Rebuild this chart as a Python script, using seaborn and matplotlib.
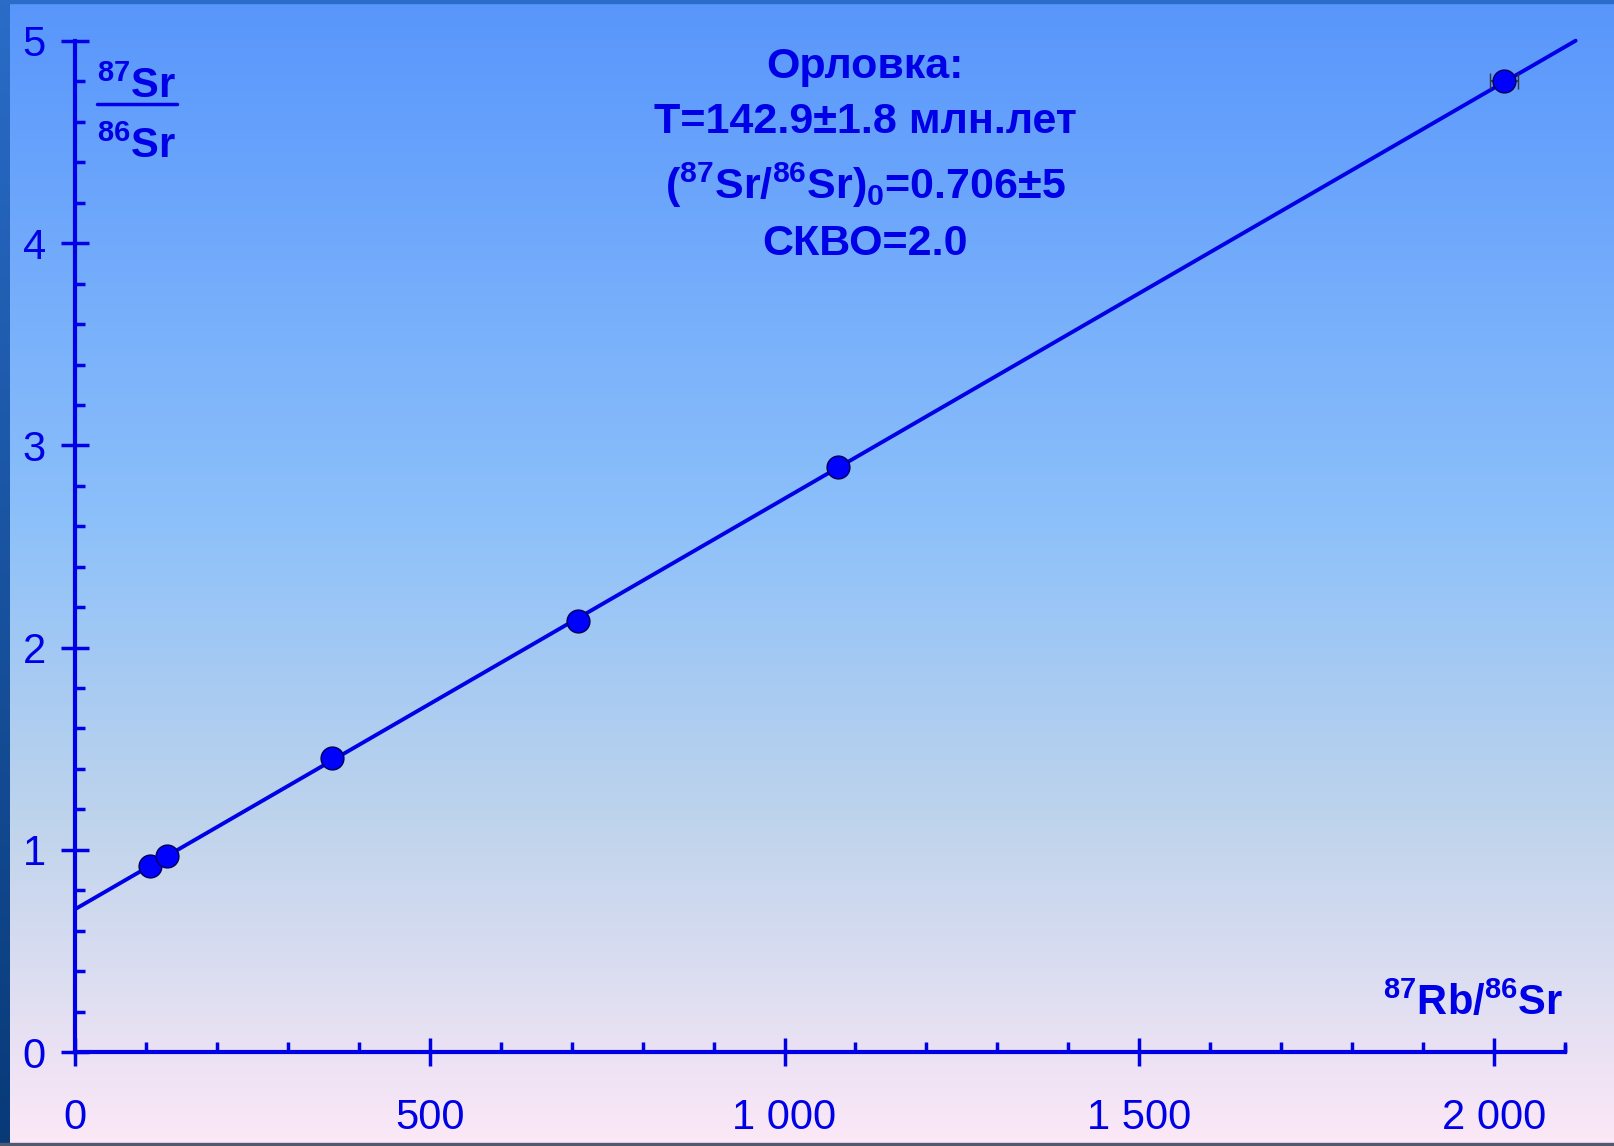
import numpy as np
import pandas as pd
import seaborn as sns
import matplotlib.pyplot as plt
from matplotlib.colors import LinearSegmentedColormap
from matplotlib.ticker import MultipleLocator, FixedLocator, FixedFormatter
from matplotlib.lines import Line2D

## isochron points (87Rb/86Sr vs 87Sr/86Sr)
rb_sr = [106, 129, 362, 709, 1075, 2014]
sr_sr = [0.921, 0.968, 1.453, 2.131, 2.895, 4.801]
rb_err = [0, 0, 0, 0, 0, 20]

## isochron fit
intercept = 0.706
slope = 0.002031
fit_x = [0, 2115]

x_ticks = [0, 500, 1000, 1500, 2000]
x_labels = ["0", "500", "1 000", "1 500", "2 000"]
y_ticks = [0, 1, 2, 3, 4, 5]
y_labels = ["0", "1", "2", "3", "4", "5"]

title_lines = [
    "Орловка:",
    "T=142.9±1.8 млн.лет",
    r"($^{87}$Sr/$^{86}$Sr)$_0$=0.706±5",
    "СКВО=2.0",
]

blue = "#0000e6"

sns.set_style("ticks")
plt.rcParams["font.family"] = ["Liberation Sans", "DejaVu Sans"]
plt.rcParams["mathtext.fontset"] = "custom"
plt.rcParams["mathtext.rm"] = "Liberation Sans:bold"
plt.rcParams["mathtext.it"] = "Liberation Sans:bold"
plt.rcParams["mathtext.bf"] = "Liberation Sans:bold"

fig = plt.figure(figsize=(16.14, 11.46), dpi=100)

## background gradient like the slide
bg = fig.add_axes([0, 0, 1, 1])
bg_cmap = LinearSegmentedColormap.from_list(
    "slide", [(0.0, "#5896fc"), (0.45, "#8cc0fa"), (0.72, "#bfd4ec"), (1.0, "#fce8f7")])
grad = np.linspace(0, 1, 256).reshape(-1, 1)
bg.imshow(grad, aspect="auto", cmap=bg_cmap, extent=[0, 1, 0, 1], origin="upper")
strip_cmap = LinearSegmentedColormap.from_list("strip", ["#2a6cc8", "#083a78"])
bg.imshow(grad, aspect="auto", cmap=strip_cmap, extent=[0, 10 / 1614, 0, 1], origin="upper")
bg.axhspan(1 - 3 / 1146, 1, color="#2a6cc8")
bg.axhspan(0, 3 / 1146, color="#505a6e")
bg.set_xlim(0, 1)
bg.set_ylim(0, 1)
bg.axis("off")

ax = fig.add_axes([75 / 1614, 1 - 1052 / 1146, (1565 - 75) / 1614, (1052 - 41) / 1146])
ax.set_facecolor("none")

df = pd.DataFrame({"x": rb_sr, "y": sr_sr, "xerr": rb_err})
df_fit = pd.DataFrame({"x": fit_x})
df_fit["y"] = intercept + slope * df_fit["x"]

sns.lineplot(data=df_fit, x="x", y="y", ax=ax, color=blue, lw=2.8, clip_on=False, zorder=2)
err = df[df["xerr"] > 0]
ax.errorbar(err["x"], err["y"], xerr=err["xerr"], fmt="none", ecolor="#333344",
            elinewidth=1.2, capsize=6, zorder=3)
sns.scatterplot(data=df, x="x", y="y", ax=ax, s=270, color="#0000ff",
                edgecolor="#000055", linewidth=1, zorder=4, clip_on=False)

ax.set_xlim(0, 2100)
ax.set_ylim(0, 5)
ax.set_xlabel("")
ax.set_ylabel("")

for s in ["top", "right"]:
    ax.spines[s].set_visible(False)
for s in ["left", "bottom"]:
    ax.spines[s].set_color(blue)
    ax.spines[s].set_linewidth(3)

ax.xaxis.set_major_locator(FixedLocator(x_ticks))
ax.xaxis.set_major_formatter(FixedFormatter(x_labels))
ax.yaxis.set_major_locator(FixedLocator(y_ticks))
ax.yaxis.set_major_formatter(FixedFormatter(y_labels))
ax.xaxis.set_minor_locator(MultipleLocator(100))
ax.yaxis.set_minor_locator(MultipleLocator(0.2))

ax.tick_params(which="major", direction="inout", length=20, width=2.5, color=blue,
               labelcolor=blue, labelsize=30)
ax.tick_params(which="minor", direction="in", length=7, width=2.5, color=blue)
ax.tick_params(axis="x", which="major", pad=23)
ax.tick_params(axis="y", which="major", pad=11)

## right end of the x axis has a little upward tick
ax.plot([1, 1], [0, 7 / 1011], transform=ax.transAxes, color=blue, lw=2.5, clip_on=False)

## title block
title_y = [67, 122, 185, 244]
for txt, yy in zip(title_lines, title_y):
    fig.text(865 / 1614, 1 - yy / 1146, txt, ha="center", va="center",
             color=blue, fontsize=31, fontweight="bold")

## y label as fraction
fig.text(97 / 1614, 1 - 87 / 1146, r"$^{87}$Sr", ha="left", va="center",
         color=blue, fontsize=30, fontweight="bold")
fig.text(97 / 1614, 1 - 147 / 1146, r"$^{86}$Sr", ha="left", va="center",
         color=blue, fontsize=30, fontweight="bold")
fig.add_artist(Line2D([97 / 1614, 177 / 1614], [1 - 104 / 1146, 1 - 104 / 1146],
                      color=blue, lw=2.5))

## x label
fig.text(1563 / 1614, 1 - 1003 / 1146, r"$^{87}$Rb/$^{86}$Sr", ha="right", va="center",
         color=blue, fontsize=30, fontweight="bold")

fig.savefig("out.png", dpi=100)
